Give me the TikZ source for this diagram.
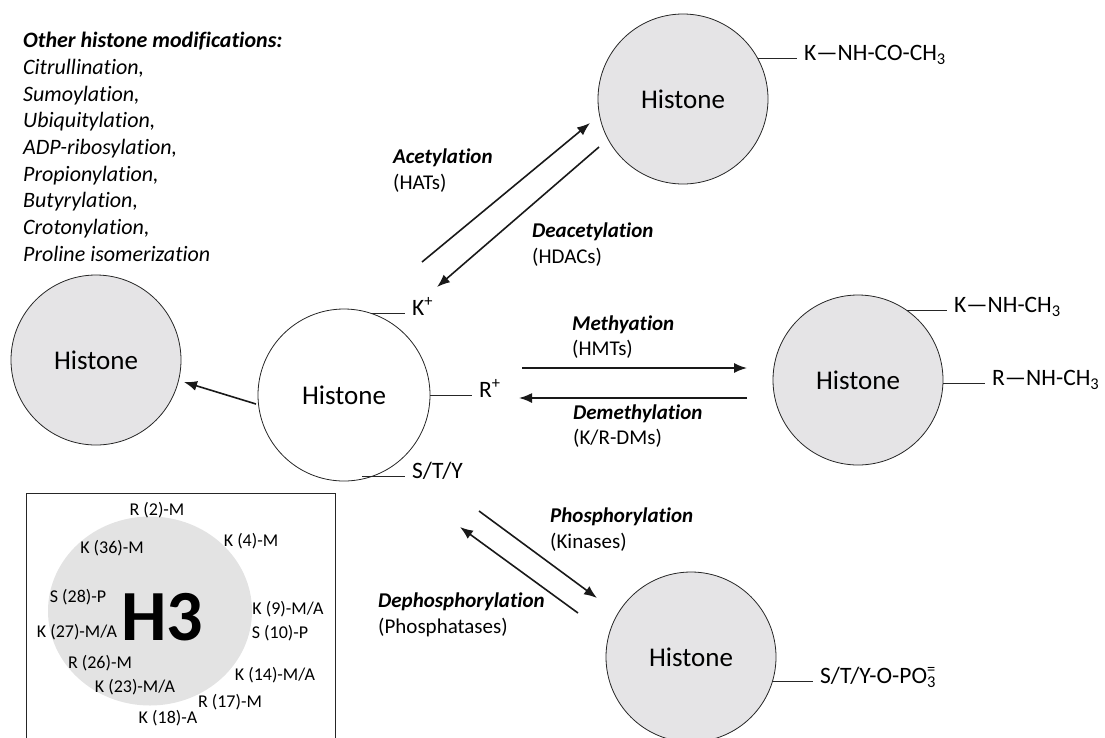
\documentclass[tikz,border=0pt]{standalone}
\usepackage{fontspec}
\setmainfont{Carlito}[Ligatures={NoCommon}]
\usepackage{tikz}
\usetikzlibrary{arrows.meta, shapes.geometric}
\definecolor{HistGray}{RGB}{229,228,230}
\definecolor{HThree}{RGB}{227,227,227}
\tikzset{
  histG/.style={circle, draw=black!85, fill=HistGray, line width=0.8pt,
                inner sep=0pt, minimum size=170pt,
                font=\fontsize{27}{32}\selectfont},
  histW/.style={histG, fill=white, minimum size=172pt},
  siteL/.style={anchor=mid west, inner xsep=7pt, inner ysep=0pt,
                font=\fontsize{23.5}{28}\selectfont},
  siteLine/.style={draw=black!85, line width=0.8pt},
  rxnL/.style={anchor=west, align=left, inner sep=0pt,
               font=\fontsize{21}{25.5}\selectfont},
  rxnA/.style={draw=black!90, line width=1.6pt,
               -{Latex[length=13pt,width=10pt]}},
  h3site/.style={inner sep=0pt, font=\fontsize{18}{20}\selectfont},
}
\newcommand{\rxn}[2]{\textbf{\textit{#1}}\\(#2)}

\begin{document}
\begin{tikzpicture}[x=1pt,y=-1pt]
    \useasboundingbox (0,0) rectangle (1105,737);
    \clip (0,0) rectangle (1105,737);
    %% histones
    \node[histW] (hisC) at (344,395) {Histone};
    \node[histG] (hisA) at (683,99)  {Histone};
    \node[histG] (hisM) at (858,380) {Histone};
    \node[histG] (hisP) at (691,657) {Histone};
    \node[histG] (hisO) at (96,360)  {Histone};
    %% residues
    \node[siteL] (kPlus) at (405,313) {K\textsuperscript{+}};
    \node[siteL] (rPlus) at (472,395) {R\textsuperscript{+}};
    \node[siteL] (sty)   at (405,476) {S/T/Y};
    \node[siteL] (kAc)   at (797,58)  {K—NH-CO-CH\textsubscript{3}};
    \node[siteL] (kMe)   at (947,310) {K—NH-CH\textsubscript{3}};
    \node[siteL] (rMe)   at (985,383) {R—NH-CH\textsubscript{3}};
    \node[siteL] (styP)  at (813,681) {S/T/Y-O-PO\rlap{\textsubscript{3}}\textsuperscript{=}};
    \draw[siteLine] (hisC.72 |- kPlus.mid west) -- (kPlus.mid west);
    \draw[siteLine] (hisC.east |- rPlus.mid west) -- (rPlus.mid west);
    \draw[siteLine] (hisC.-78 |- sty.mid west) -- (sty.mid west);
    \draw[siteLine] (hisA.29 |- kAc.mid west) -- (kAc.mid west);
    \draw[siteLine] (hisM.55 |- kMe.mid west) -- (kMe.mid west);
    \draw[siteLine] (hisM.-2 |- rMe.mid west) -- (rMe.mid west);
    \draw[siteLine] (hisP.-16 |- styP.mid west) -- (styP.mid west);
    %% enzymes
    \node[rxnL] (acet)   at (393,170.5) {\rxn{Acetylation}{HATs}};
    \node[rxnL] (deacet) at (532,244.5) {\rxn{Deacetylation}{HDACs}};
    \node[rxnL] (meth)   at (572,337)   {\rxn{Methyation}{HMTs}};
    \node[rxnL] (demeth) at (573,426)   {\rxn{Demethylation}{K/R-DMs}};
    \node[rxnL] (phos)   at (550,529.5) {\rxn{Phosphorylation}{Kinases}};
    \node[rxnL] (dephos) at (378,615)   {\rxn{Dephosphorylation}{Phosphatases}};
    %% arrow ends
    \coordinate (acA) at (422,262); \coordinate (acB) at (590,123);
    \coordinate (daA) at (599,147); \coordinate (daB) at (437,287);
    \coordinate (meA) at (522,368); \coordinate (meB) at (747,368);
    \coordinate (dmA) at (747,398); \coordinate (dmB) at (519,398);
    \coordinate (phA) at (479,511); \coordinate (phB) at (597,598);
    \coordinate (dpA) at (578,613); \coordinate (dpB) at (460,527);
    \coordinate (otA) at (256,404); \coordinate (otB) at (184,382);
    \draw[rxnA] (acA) -- (acB);
    \draw[rxnA] (daA) -- (daB);
    \draw[rxnA] (meA) -- (meB);
    \draw[rxnA] (dmA) -- (dmB);
    \draw[rxnA] (phA) -- (phB);
    \draw[rxnA] (dpA) -- (dpB);
    \draw[rxnA] (otA) -- (otB);
    %% other modifications
    \node[anchor=north west, align=left, inner sep=0pt,
          font=\fontsize{22}{26.7}\selectfont\itshape] (other) at (23,32) {%
      \textbf{Other histone modifications:}\\
      Citrullination,\\
      Sumoylation,\\
      Ubiquitylation,\\
      ADP-ribosylation,\\
      Propionylation,\\
      Butyrylation,\\
      Crotonylation,\\
      Proline isomerization%
    };
    %% H3 panel
    \draw[line width=0.8pt, draw=black!85] (26,750) -- (26,493) -- (335,493) -- (335,750);
    \node[ellipse, fill=HThree, inner sep=0pt,
          minimum width=204pt, minimum height=189pt] (h3disc) at (150,611) {};
    \node[inner sep=0pt, font=\fontsize{72}{72}\selectfont\bfseries] (h3) at (162,617) {H3};
    \foreach \px/\py/\txt [count=\i] in {157/510/{R (2)-M}, 251/541/{K (4)-M},
        112/548/{K (36)-M}, 78/597/{S (28)-P}, 288/609/{K (9)-M/A},
        77/632/{K (27)-M/A}, 280/633/{S (10)-P}, 100/663/{R (26)-M},
        275/675/{K (14)-M/A}, 135/687/{K (23)-M/A}, 230/702/{R (17)-M},
        168/718/{K (18)-A}}
      \node[h3site] (site\i) at (\px,\py) {\txt};
\end{tikzpicture}
\end{document}
